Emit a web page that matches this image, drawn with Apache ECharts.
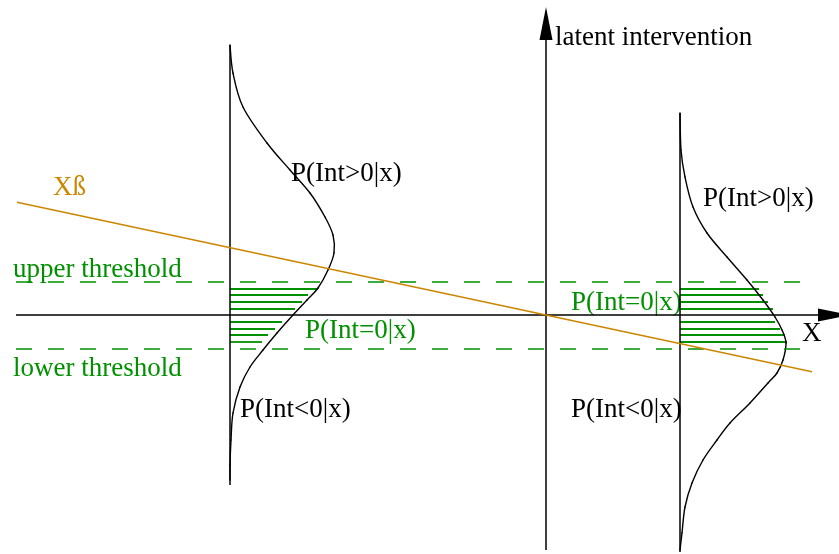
<!DOCTYPE html>
<html>
<head>
<meta charset="utf-8">
<title>Ordered probit: latent intervention</title>
<script src="https://cdn.jsdelivr.net/npm/echarts@6/dist/echarts.min.js"></script>
<style>
  html, body { margin: 0; padding: 0; background: #ffffff; }
  #chart { width: 839px; height: 554px; }
</style>
</head>
<body>
<div id="chart"></div>
<script>
// Coordinate system: X horizontal, latent intervention vertical, origin where axes cross.
const xAxisSpan = [-530, 272];        // horizontal axis extent (X)
const yAxisSpan = [-235, 275];        // vertical axis extent (latent)
const xArrowAt = 288.5;               // centre of the X-axis arrowhead
const yArrowAt = 291.5;               // centre of the latent-axis arrowhead

const upperThreshold = 33;
const lowerThreshold = -34;
const thresholdSpan = [-530, 264];

// Linear predictor X*beta
const xbX = [-529, 266];
const xbY = [112.7, -56.7];

// Conditional densities of the latent variable at two X values
const leftBellBase = -316;
const leftBellSpan = [270, -170];
const leftLatent  = [270, 242, 208, 172, 145, 122, 98, 80, 62, 45, 27, 15, 0, -18, -35, -52, -72, -98, -125, -150, -165];
const leftDensity = [0, 3, 13, 37, 60, 80, 95, 103, 104, 98, 88, 77, 63, 47, 33, 20, 10, 3, 1, 0, 0];

const rightBellBase = 134;
const rightBellSpan = [202, -237];
const rightLatent  = [202, 165, 138, 108, 82, 58, 35, 15, -2, -15, -28, -45, -58, -68, -88, -108, -125, -145, -168, -192, -218, -235];
const rightDensity = [0, 1, 5, 13, 27, 47, 67, 83, 95, 102, 106, 103, 97, 88, 70, 50, 37, 23, 12, 5, 2, 0];

// Shaded region P(Int=0|x) between the thresholds
const hatchLatent = [26.7, 20, 13.3, 6.7, -6.7, -13.3, -20, -26.7];
const leftHatchLen  = [88, 78, 72, 65, 52, 45, 38, 32];
const rightHatchLen = [79, 83, 88, 93, 95, 100, 105, 107];

const BLACK = '#000000';
const GREEN = '#009000';
const ORANGE = '#cc8600';

function curve(base, latent, density) {
  return latent.map((v, i) => [base + density[i], v]);
}
function hatch(base, lens) {
  return hatchLatent.map((v, i) => ({ coords: [[base, v], [base + lens[i], v]] }));
}
function seg(data, color, width, type) {
  return {
    type: 'line', data: data, symbol: 'none', silent: true, animation: false,
    lineStyle: { color: color, width: width, type: type || 'solid' }
  };
}

// Density curve drawn as a Catmull-Rom spline through its points
function bellSeries(points) {
  const n = points.length;
  return {
    type: 'custom', coordinateSystem: 'cartesian2d', silent: true, animation: false,
    encode: { x: 0, y: 1 },
    data: points,
    renderItem: function (params, api) {
      const i = params.dataIndex;
      if (i >= n - 1) return null;
      const P = k => api.coord(points[Math.max(0, Math.min(n - 1, k))]);
      const p0 = P(i - 1), p1 = P(i), p2 = P(i + 1), p3 = P(i + 2);
      return {
        type: 'bezierCurve',
        shape: {
          x1: p1[0], y1: p1[1], x2: p2[0], y2: p2[1],
          cpx1: p1[0] + (p2[0] - p0[0]) / 6, cpy1: p1[1] + (p2[1] - p0[1]) / 6,
          cpx2: p2[0] - (p3[0] - p1[0]) / 6, cpy2: p2[1] - (p3[1] - p1[1]) / 6
        },
        style: { stroke: BLACK, lineWidth: 1.4, fill: null, lineCap: 'round' }
      };
    }
  };
}

const chart = echarts.init(document.getElementById('chart'), null, { renderer: 'canvas' });

// Text placed by alphabetic baseline
function label(text, x, baseline, color) {
  return {
    type: 'text', x: x, y: baseline - 6.8, silent: true,
    style: {
      text: text, fill: color, align: 'left', verticalAlign: 'middle',
      fontFamily: 'Liberation Serif', fontSize: 27
    }
  };
}

chart.setOption({
  animation: false,
  grid: { left: 0, right: 0, top: 0, bottom: 0 },
  xAxis: { type: 'value', min: -546, max: 293, show: false },
  yAxis: { type: 'value', min: -239, max: 315, show: false },
  series: [
    // axes
    seg([[xAxisSpan[0], 0], [xAxisSpan[1], 0]], BLACK, 1.5),
    seg([[0, yAxisSpan[0]], [0, yAxisSpan[1]]], BLACK, 1.5),
    {
      type: 'scatter', silent: true, animation: false,
      symbol: 'triangle', symbolSize: [13, 33],
      itemStyle: { color: BLACK, opacity: 1 },
      data: [
        { value: [0, yArrowAt], symbolRotate: 0 },
        { value: [xArrowAt, 0], symbolRotate: -90 }
      ]
    },
    // thresholds
    seg([[thresholdSpan[0], upperThreshold], [thresholdSpan[1], upperThreshold]], GREEN, 1.5, [16, 16]),
    seg([[thresholdSpan[0], lowerThreshold], [thresholdSpan[1], lowerThreshold]], GREEN, 1.5, [16, 16]),
    // hatching
    {
      type: 'lines', coordinateSystem: 'cartesian2d', silent: true, animation: false,
      lineStyle: { color: GREEN, width: 1.8, opacity: 1 },
      data: hatch(leftBellBase, leftHatchLen).concat(hatch(rightBellBase, rightHatchLen))
    },
    // baselines of the two densities
    seg([[leftBellBase, leftBellSpan[0]], [leftBellBase, leftBellSpan[1]]], BLACK, 1.5),
    seg([[rightBellBase, rightBellSpan[0]], [rightBellBase, rightBellSpan[1]]], BLACK, 1.5),
    // density curves
    bellSeries(curve(leftBellBase, leftLatent, leftDensity)),
    bellSeries(curve(rightBellBase, rightLatent, rightDensity)),
    // X*beta
    seg([[xbX[0], xbY[0]], [xbX[1], xbY[1]]], ORANGE, 1.5)
  ],
  graphic: [
    label('latent intervention', 555, 45, BLACK),
    label('X', 802, 341, BLACK),
    label('Xß', 53, 195, ORANGE),
    label('upper threshold', 13, 277, GREEN),
    label('lower threshold', 13, 376, GREEN),
    label('P(Int>0|x)', 291, 181, BLACK),
    label('P(Int>0|x)', 703, 206, BLACK),
    label('P(Int=0|x)', 305, 338, GREEN),
    label('P(Int=0|x)', 571, 310, GREEN),
    label('P(Int<0|x)', 240, 417, BLACK),
    label('P(Int<0|x)', 571, 417, BLACK)
  ]
});
</script>
</body>
</html>
